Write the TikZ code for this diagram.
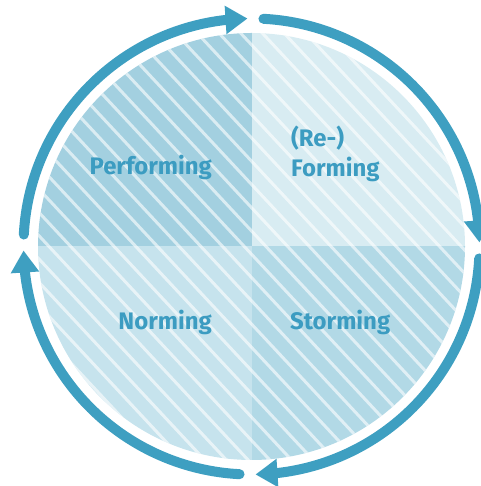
\documentclass[tikz,border=0pt]{standalone}
\usepackage{fontspec}
\setmainfont{Fira Sans}
\usetikzlibrary{arrows.meta,bending}
\definecolor{ringc}{HTML}{3E9FC1}
\definecolor{textc}{HTML}{3C9CC1}
\definecolor{qtl}{HTML}{A3D0E0}
\definecolor{qtr}{HTML}{D8ECF2}
\definecolor{qbl}{HTML}{C6E3ED}
\definecolor{qbr}{HTML}{B2D9E6}
\tikzset{
  ringarc/.style={draw=ringc, line width=10bp, line cap=round,
    -{Triangle[width=27bp,length=22bp]}},
  hatch/.style={draw=white, draw opacity=0.6, line width=3bp},
  label/.style={text=textc, font=\bfseries\fontsize{24}{29}\selectfont, inner sep=0pt},
}
\begin{document}
\begin{tikzpicture}[x=1bp,y=1bp]
\useasboundingbox (0,0) rectangle (481,486);
\coordinate (C) at (251.5,239.5);
% quadrants
\begin{scope}
  \clip (C) circle[radius=213.5];
  \fill[qtl] (C) rectangle ++(-220,220);
  \fill[qtr] (C) rectangle ++(220,220);
  \fill[qbl] (C) rectangle ++(-220,-220);
  \fill[qbr] (C) rectangle ++(220,-220);
  \foreach \k in {-30,...,30} {
    \draw[hatch] ({322+21.7*\k},226) ++(133:500) -- ++(-47:1000);
  }
\end{scope}
% ring arrows
\draw[ringarc] (C) ++(177:228) arc[start angle=177, end angle=91, radius=228];
\draw[ringarc] (C) ++(87:228) arc[start angle=87, end angle=1, radius=228];
\draw[ringarc] (C) ++(-3:228) arc[start angle=-3, end angle=-89, radius=228];
\draw[ringarc] (C) ++(-93:228) arc[start angle=-93, end angle=-179, radius=228];
% labels
\node[label, anchor=base east] (perf) at (212,311) {Performing};
\node[label, anchor=base east] (norm) at (212,156) {Norming};
\node[label, anchor=base west] (storm) at (290,156) {Storming};
\node[label, anchor=base west] (re) at (291,339) {(Re-)};
\node[label, anchor=base west] (form) at (291,309) {Forming};
\end{tikzpicture}
\end{document}
